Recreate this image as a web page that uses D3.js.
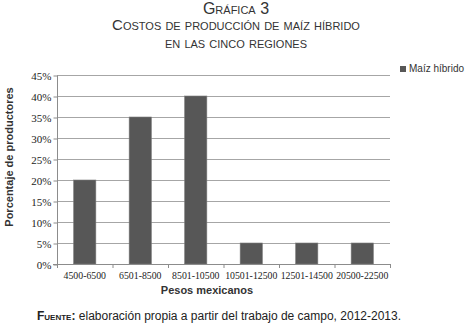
<!DOCTYPE html>
<html>
<head>
<meta charset="utf-8">
<script src="https://cdn.jsdelivr.net/npm/d3@7"></script>
<style>
  body { margin: 0; background: #fff; }
  svg { display: block; }
  .serif text { font-family: "Liberation Serif", "DejaVu Serif", serif; }
</style>
</head>
<body>
<svg id="chart" width="472" height="326"></svg>
<script>
// data
const categories = ["4500-6500", "6501-8500", "8501-10500", "10501-12500", "12501-14500", "20500-22500"];
const values = [20, 35, 40, 5, 5, 5];
const yTicks = [0, 5, 10, 15, 20, 25, 30, 35, 40, 45];
const seriesName = "Maíz híbrido";

const svg = d3.select("#chart");
const sans = "'Liberation Sans', Arial, sans-serif";

const plot = {left: 57, right: 390, top: 75, bottom: 264};

const x = d3.scaleBand().domain(categories).range([plot.left, plot.right]).paddingInner(0.6).paddingOuter(0.3);
const y = d3.scaleLinear().domain([0, 45]).range([plot.bottom, plot.top]);

// titles
const titles = [
    {t: "Gráfica 3", y: 14, size: 16},
    {t: "Costos de producción de maíz híbrido", y: 30, size: 15},
    {t: "en las cinco regiones", y: 48, size: 15}
];
svg.selectAll(".title")
    .data(titles)
    .enter()
    .append("text")
    .attr("class", "title")
    .attr("x", 236)
    .attr("y", d => d.y)
    .attr("text-anchor", "middle")
    .style("font-family", sans)
    .style("font-size", d => d.size + "px")
    .style("font-variant", "small-caps")
    .attr("fill", "#333")
    .text(d => d.t);

// gridlines
svg.append("g")
    .selectAll("line")
    .data(yTicks.filter(d => d > 0))
    .enter()
    .append("line")
    .attr("x1", plot.left)
    .attr("x2", plot.right)
    .attr("y1", d => y(d) + 0.5)
    .attr("y2", d => y(d) + 0.5)
    .attr("stroke", "#a6a6a6")
    .attr("stroke-width", 1);

// bars
svg.append("g")
    .selectAll("rect")
    .data(values)
    .enter()
    .append("rect")
    .attr("x", (d, i) => x(categories[i]))
    .attr("y", d => y(d))
    .attr("width", x.bandwidth())
    .attr("height", d => y(0) - y(d))
    .attr("fill", "#575757")
    .attr("stroke", "#7a7a7a")
    .attr("stroke-width", 0.6);

// y axis
const yAxis = svg.append("g")
    .attr("class", "serif")
    .attr("transform", "translate(" + (plot.left + 0.5) + ",0.5)")
    .call(d3.axisLeft(y).tickValues(yTicks).tickSize(4).tickFormat(d => d + "%"));
yAxis.attr("font-family", null).attr("font-size", null);
yAxis.select(".domain").attr("stroke", "#8c8c8c").attr("d", "M0," + plot.top + "V" + plot.bottom);
yAxis.selectAll(".tick line").attr("stroke", "#8c8c8c");
yAxis.selectAll(".tick text")
    .style("font-size", "11px")
    .attr("fill", "#222")
    .attr("x", -6);

// x axis
const xAxis = svg.append("g")
    .attr("class", "serif")
    .attr("transform", "translate(0," + (plot.bottom + 0.5) + ")")
    .call(d3.axisBottom(x).tickSize(0).tickPadding(8));
xAxis.attr("font-family", null).attr("font-size", null);
xAxis.select(".domain").attr("stroke", "#8c8c8c").attr("d", "M" + (plot.left - 4) + ",0H" + plot.right);
xAxis.selectAll(".tick text")
    .style("font-size", "9.8px")
    .attr("fill", "#222");

// category separators
const step = (plot.right - plot.left) / categories.length;
svg.append("g")
    .selectAll("line")
    .data(d3.range(categories.length + 1))
    .enter()
    .append("line")
    .attr("x1", i => plot.left + i * step + 0.5)
    .attr("x2", i => plot.left + i * step + 0.5)
    .attr("y1", plot.bottom)
    .attr("y2", plot.bottom + 4)
    .attr("stroke", "#8c8c8c");

// axis titles
svg.append("text")
    .attr("transform", "translate(13,157) rotate(-90)")
    .attr("text-anchor", "middle")
    .style("font-family", sans)
    .style("font-size", "11px")
    .attr("font-weight", "bold")
    .attr("fill", "#333")
    .text("Porcentaje de productores");

svg.append("text")
    .attr("x", 207)
    .attr("y", 294)
    .attr("text-anchor", "middle")
    .style("font-family", sans)
    .style("font-size", "11px")
    .attr("font-weight", "bold")
    .attr("fill", "#333")
    .text("Pesos mexicanos");

// legend
const legend = svg.append("g").attr("transform", "translate(400,66)");
legend.append("rect")
    .attr("width", 6)
    .attr("height", 6)
    .attr("fill", "#575757");
legend.append("text")
    .attr("x", 9)
    .attr("y", 6)
    .style("font-family", sans)
    .style("font-size", "10px")
    .attr("fill", "#333")
    .text(seriesName);

// source note
const src = svg.append("text")
    .attr("x", 37)
    .attr("y", 320)
    .style("font-family", sans)
    .style("font-size", "12px")
    .attr("fill", "#222");
src.append("tspan")
    .attr("font-weight", "bold")
    .style("font-variant", "small-caps")
    .style("font-size", "12px")
    .text("Fuente:");
src.append("tspan")
    .text(" elaboración propia a partir del trabajo de campo, 2012-2013.");
</script>
</body>
</html>
